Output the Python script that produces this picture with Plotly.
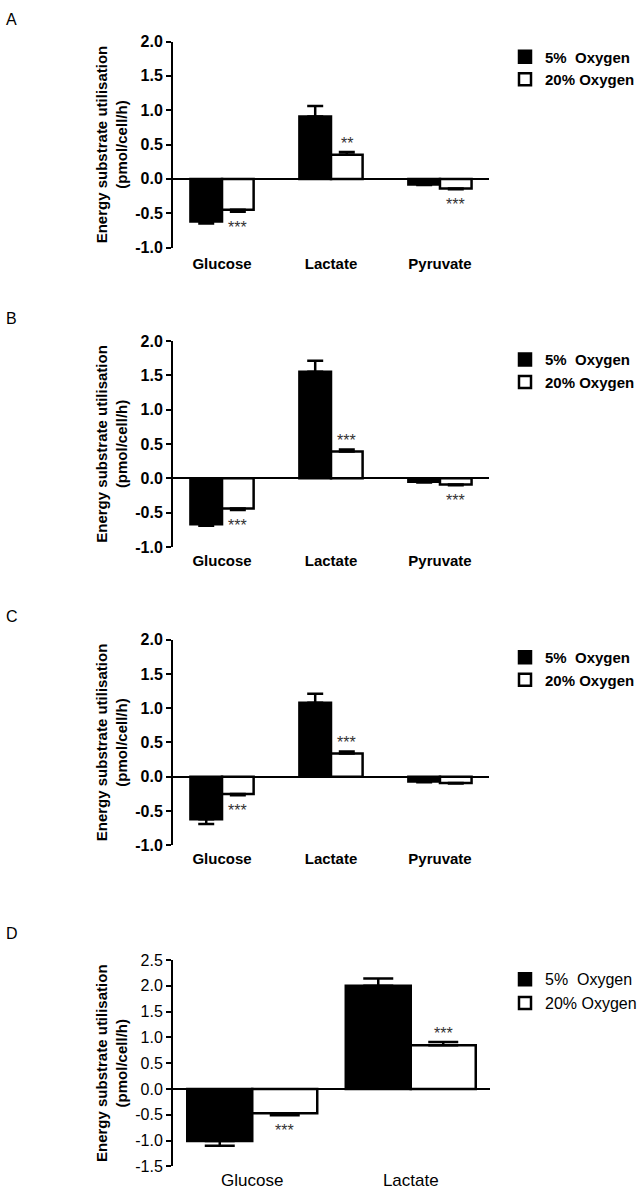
import plotly.graph_objects as go

# ---------------- data ----------------
categories_abc = ["Glucose", "Lactate", "Pyruvate"]
categories_d = ["Glucose", "Lactate"]
series_names = ["5%  Oxygen", "20% Oxygen"]

a_o5 = [-0.62, 0.91, -0.08]
a_o5_err = [0.03, 0.15, 0.01]
a_o20 = [-0.45, 0.35, -0.14]
a_o20_err = [0.03, 0.04, 0.01]
a_sig = ["***", "**", "***"]

b_o5 = [-0.67, 1.55, -0.05]
b_o5_err = [0.02, 0.16, 0.01]
b_o20 = [-0.44, 0.39, -0.09]
b_o20_err = [0.02, 0.03, 0.01]
b_sig = ["***", "***", "***"]

c_o5 = [-0.62, 1.08, -0.07]
c_o5_err = [0.07, 0.13, 0.01]
c_o20 = [-0.25, 0.34, -0.09]
c_o20_err = [0.02, 0.03, 0.01]
c_sig = ["***", "***", ""]

d_o5 = [-1.01, 2.00]
d_o5_err = [0.09, 0.14]
d_o20 = [-0.47, 0.85]
d_o20_err = [0.04, 0.06]
d_sig = ["***", "***"]

y_ticks_abc = [-1.0, -0.5, 0.0, 0.5, 1.0, 1.5, 2.0]
y_ticktext_abc = ["-1.0", "-0.5", "0.0", "0.5", "1.0", "1.5", "2.0"]
y_ticks_d = [-1.5, -1.0, -0.5, 0.0, 0.5, 1.0, 1.5, 2.0, 2.5]
y_ticktext_d = ["-1.5", "-1.0", "-0.5", "0.0", "0.5", "1.0", "1.5", "2.0", "2.5"]

panel_letters = ["A", "B", "C", "D"]
y_title = "Energy substrate utilisation<br>(pmol/cell/h)"

# ---------------- layout geometry (pixels) ----------------
W, H = 642, 1202
FONT = "Liberation Sans, Arial, sans-serif"

panels = [
    dict(cats=categories_abc, o5=a_o5, o5e=a_o5_err, o20=a_o20, o20e=a_o20_err, sig=a_sig,
         ticks=y_ticks_abc, ticktext=y_ticktext_abc, x0=173, x1=489, top=34.0, bot=243.0,
         bw=0.29, cap=8, bold=True, letter_y=12, leg_top=33, standoff=5),
    dict(cats=categories_abc, o5=b_o5, o5e=b_o5_err, o20=b_o20, o20e=b_o20_err, sig=b_sig,
         ticks=y_ticks_abc, ticktext=y_ticktext_abc, x0=173, x1=489, top=337.7, bot=546.7,
         bw=0.29, cap=8, bold=True, letter_y=315, leg_top=340, standoff=3),
    dict(cats=categories_abc, o5=c_o5, o5e=c_o5_err, o20=c_o20, o20e=c_o20_err, sig=c_sig,
         ticks=y_ticks_abc, ticktext=y_ticktext_abc, x0=173, x1=489, top=640.7, bot=849.3,
         bw=0.29, cap=8, bold=True, letter_y=617, leg_top=642, standoff=3),
    dict(cats=categories_d, o5=d_o5, o5e=d_o5_err, o20=d_o20, o20e=d_o20_err, sig=d_sig,
         ticks=y_ticks_d, ticktext=y_ticktext_d, x0=173, x1=490, top=965.7, bot=1175.0,
         bw=0.41, cap=15, bold=False, letter_y=939, leg_top=968, standoff=2),
]

fig = go.Figure()
annotations = []
layout_axes = {}

for i, p in enumerate(panels):
    n = i + 1
    xa = "x" if n == 1 else f"x{n}"
    ya = "y" if n == 1 else f"y{n}"
    leg = "legend" if n == 1 else f"legend{n}"
    weight = "bold" if p["bold"] else "normal"
    bw = p["bw"]
    ncat = len(p["cats"])

    for s, (vals, errs, fill) in enumerate([(p["o5"], p["o5e"], "black"), (p["o20"], p["o20e"], "white")]):
        up = [e if v >= 0 else 0 for v, e in zip(vals, errs)]
        down = [0 if v >= 0 else e for v, e in zip(vals, errs)]
        fig.add_trace(go.Bar(
            x=p["cats"], y=vals, name=series_names[s],
            xaxis=xa, yaxis=ya, legend=leg, legendgroup=f"{n}-{s}",
            width=bw, offset=-bw if s == 0 else 0,
            marker=dict(color=fill, line=dict(color="black", width=2.5)),
            error_y=dict(type="data", symmetric=False, array=up, arrayminus=down,
                         color="black", thickness=2.5, width=p["cap"]),
            showlegend=True, hoverinfo="skip",
        ))

    # significance marks above/below the 20% bars
    for k, (v, e, sg) in enumerate(zip(p["o20"], p["o20e"], p["sig"])):
        if not sg:
            continue
        if v >= 0:
            yv, anc, sh = v + e, "bottom", -2
        else:
            yv, anc, sh = v - e, "top", -5
        annotations.append(dict(
            x=k + bw / 2, y=yv, xref=xa, yref=ya, text=sg, showarrow=False,
            yanchor=anc, xanchor="center", yshift=sh,
            font=dict(family=FONT, size=16, color="#333333"),
        ))

    # panel letter
    annotations.append(dict(
        x=4 / W, y=1 - p["letter_y"] / H, xref="paper", yref="paper", text=panel_letters[i],
        showarrow=False, xanchor="left", yanchor="middle",
        font=dict(family=FONT, size=16, color="black"),
    ))

    ydom = [1 - p["bot"] / H, 1 - p["top"] / H]
    xdom = [p["x0"] / W, p["x1"] / W]
    tick_size = 16
    layout_axes[f"xaxis{'' if n == 1 else n}"] = dict(
        domain=xdom, anchor=ya, type="category", range=[-0.5 if ncat == 2 else -0.45, ncat - 0.5 if ncat == 2 else ncat - 0.55],
        showline=False, ticks="", showgrid=False, zeroline=False, ticklabelstandoff=p["standoff"],
        tickfont=dict(family=FONT, size=15 if p["bold"] else 17, color="black", weight=weight),
        fixedrange=True,
    )
    layout_axes[f"yaxis{'' if n == 1 else n}"] = dict(
        domain=ydom, anchor=xa, range=[p["ticks"][0], p["ticks"][-1]],
        tickvals=p["ticks"], ticktext=p["ticktext"],
        showline=True, linecolor="black", linewidth=2,
        ticks="outside", ticklen=5, tickwidth=2, tickcolor="black",
        showgrid=False, zeroline=True, zerolinecolor="black", zerolinewidth=1.5,
        tickfont=dict(family=FONT, size=tick_size, color="black", weight=weight),
        title=dict(text=y_title, standoff=4,
                   font=dict(family=FONT, size=15, color="black", weight="bold")),
        fixedrange=True,
    )
    layout_axes[leg] = dict(
        x=505 / W, y=1 - p["leg_top"] / H, xanchor="left", yanchor="top",
        bgcolor="rgba(0,0,0,0)", borderwidth=0, tracegroupgap=6,
        font=dict(family=FONT, size=15 if p["bold"] else 16, color="black", weight=weight),
        traceorder="normal",
    )

fig.update_layout(
    width=W, height=H, margin=dict(l=0, r=0, t=0, b=0),
    paper_bgcolor="white", plot_bgcolor="white",
    barmode="overlay", annotations=annotations,
    **layout_axes,
)

fig.write_html(
    "out.html",
    config={"displayModeBar": False},
    post_script="document.body.style.margin='0';document.body.style.overflow='hidden';",
)
